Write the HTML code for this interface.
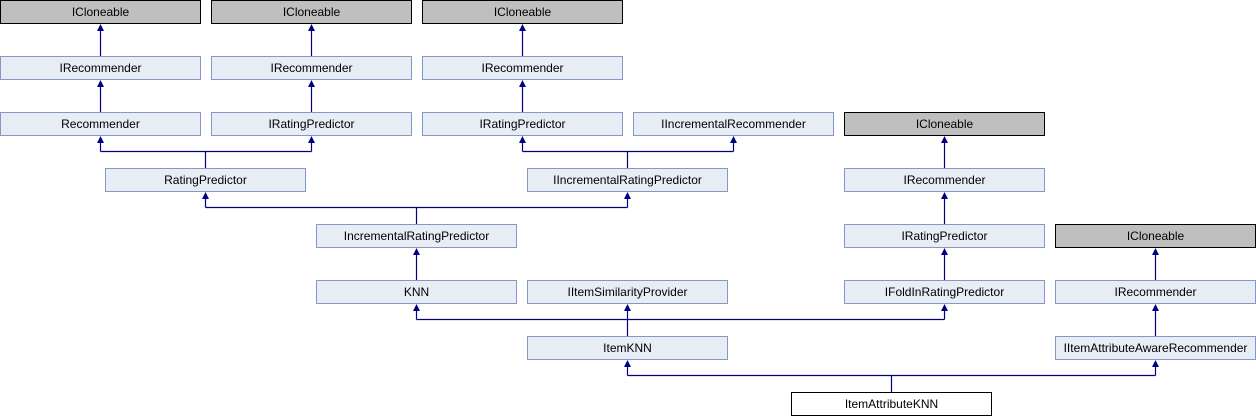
<!DOCTYPE html>
<html><head><meta charset="utf-8"><style>html,body{margin:0;padding:0;background:#fff}svg{display:block}</style></head>
<body>
<svg id="s" width="1256" height="416" xmlns="http://www.w3.org/2000/svg" font-family="Liberation Sans, sans-serif" font-size="12"></svg>
<script>
const N={
a0:[0,0,'ICloneable',1],a1:[0,56,'IRecommender'],a2:[0,112,'Recommender'],
b0:[211,0,'ICloneable',1],b1:[211,56,'IRecommender'],b2:[211,112,'IRatingPredictor'],
c0:[422,0,'ICloneable',1],c1:[422,56,'IRecommender'],c2:[422,112,'IRatingPredictor'],
d2:[633,112,'IIncrementalRecommender'],
rp:[105,168,'RatingPredictor'],irp:[527,168,'IIncrementalRatingPredictor'],
inc:[316,224,'IncrementalRatingPredictor'],knn:[316,280,'KNN'],isp:[527,280,'IItemSimilarityProvider'],
e0:[844,112,'ICloneable',1],e1:[844,168,'IRecommender'],e2:[844,224,'IRatingPredictor'],e3:[844,280,'IFoldInRatingPredictor'],
f0:[1055,224,'ICloneable',1],f1:[1055,280,'IRecommender'],f2:[1055,336,'IItemAttributeAwareRecommender'],
ik:[527,336,'ItemKNN'],iak:[791,392,'ItemAttributeKNN',2]};
const E=[['a1',['a0']],['a2',['a1']],['b1',['b0']],['b2',['b1']],['c1',['c0']],['c2',['c1']],
['rp',['a2','b2']],['irp',['c2','d2']],['inc',['rp','irp']],['knn',['inc']],
['e1',['e0']],['e2',['e1']],['e3',['e2']],['f1',['f0']],['f2',['f1']],
['ik',['knn','isp','e3']],['iak',['ik','f2']]];
let h='';
const C='#000080';
for(const [c,ps] of E){const [cx,cy]=N[c];const ccx=cx+100.5;
 if(ps.length==1){const px=N[ps[0]][0]+100.5,py=N[ps[0]][1]+24;h+=`<line x1="${px}" y1="${py+6}" x2="${ccx}" y2="${cy}" stroke="${C}" stroke-width="1.2"/>`;}
 else{const jy=cy-16.5;h+=`<line x1="${ccx}" y1="${jy}" x2="${ccx}" y2="${cy}" stroke="${C}" stroke-width="1.2"/>`;
  const xs=ps.map(p=>N[p][0]+100.5);const mn=Math.min(...xs,ccx),mx=Math.max(...xs,ccx);
  h+=`<line x1="${mn}" y1="${jy}" x2="${mx}" y2="${jy}" stroke="${C}" stroke-width="1.2"/>`;
  for(const p of ps){const px=N[p][0]+100.5,py=N[p][1]+24;h+=`<line x1="${px}" y1="${py+6}" x2="${px}" y2="${jy}" stroke="${C}" stroke-width="1.2"/>`;}}
 for(const p of ps){const px=N[p][0]+100.5,py=N[p][1]+24;h+=`<polygon points="${px},${py} ${px-3.5},${py+7} ${px+3.5},${py+7}" fill="${C}"/>`;}
}
for(const k in N){const [x,y,t,g]=N[k];const fill=g==1?'#bfbfbf':g==2?'#fff':'#e8ecf5';const st=g?'#000':'#8497c8';
 h+=`<rect x="${x+0.5}" y="${y+0.5}" width="200" height="23" fill="${fill}" stroke="${st}"/>`;
 h+=`<text x="${x+100.5}" y="${y+16}" text-anchor="middle" fill="#000">${t}</text>`;}
document.getElementById('s').innerHTML=h;
</script>
</body></html>
